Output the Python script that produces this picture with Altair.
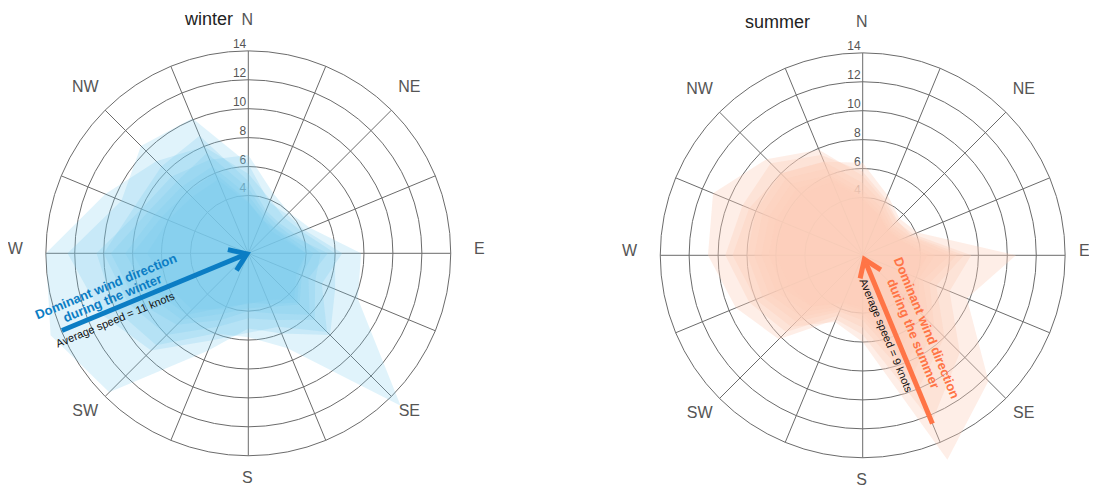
import math
import altair as alt
import pandas as pd

# ---------------- data ----------------
DIRS = ["N", "NNE", "NE", "ENE", "E", "ESE", "SE", "SSE",
        "S", "SSW", "SW", "WSW", "W", "WNW", "NW", "NNW"]
BEARINGS = [i * 22.5 for i in range(16)]
LABEL_DIRS = ["N", "NE", "E", "SE", "S", "SW", "W", "NW"]
RING_VALUES = [4, 6, 8, 10, 12, 14]
SEASONS = ["winter", "summer"]

# average wind speed (knots) per direction, one list per year
winter_1 = [6.8, 4.5, 4.0, 4.6, 7.8, 8.2, 14.9, 7.1, 5.8, 6.0, 9.0, 10.0, 10.5, 8.0, 7.5, 7.0]
winter_2 = [5.5, 4.0, 3.5, 4.0, 6.0, 6.5, 8.0, 6.0, 5.2, 7.3, 13.6, 14.8, 14.0, 10.7, 9.0, 8.0]
winter_3 = [6.2, 3.8, 3.8, 4.2, 6.5, 5.5, 7.7, 5.5, 5.5, 6.5, 9.5, 11.0, 12.5, 9.5, 10.5, 10.1]
winter_4 = [5.0, 3.2, 3.0, 3.5, 5.0, 5.0, 6.5, 5.0, 4.5, 5.5, 8.0, 9.0, 10.0, 8.5, 8.5, 8.8]
winter_5 = [4.5, 3.0, 2.8, 3.2, 5.5, 4.5, 6.0, 4.5, 4.0, 5.0, 7.0, 8.5, 9.5, 7.5, 7.0, 7.5]
winter_6 = [4.0, 2.8, 2.5, 3.0, 4.5, 4.0, 5.0, 4.0, 3.8, 4.5, 6.5, 7.5, 8.5, 7.0, 6.5, 6.5]
winter_7 = [3.6, 2.5, 2.5, 2.8, 4.0, 3.6, 4.5, 3.5, 3.5, 4.0, 6.0, 7.0, 8.0, 6.5, 6.0, 6.0]
winter_8 = [3.5, 2.6, 2.2, 2.6, 4.0, 3.8, 4.8, 3.8, 3.4, 4.2, 5.5, 6.0, 7.0, 6.0, 5.5, 5.5]

summer_1 = [6.4, 4.5, 3.6, 4.1, 10.6, 7.8, 12.3, 15.3, 6.0, 5.0, 7.0, 8.0, 9.0, 8.5, 8.0, 7.0]
summer_2 = [5.5, 4.0, 3.3, 3.8, 7.5, 6.5, 9.5, 12.5, 5.5, 4.8, 8.2, 9.5, 10.7, 11.2, 9.4, 7.9]
summer_3 = [5.8, 4.2, 3.4, 3.6, 7.0, 5.5, 8.0, 10.0, 5.0, 4.5, 7.5, 8.5, 9.5, 9.0, 9.0, 7.5]
summer_4 = [5.0, 3.8, 3.0, 3.5, 6.5, 5.0, 7.0, 9.0, 4.5, 4.2, 6.5, 7.5, 8.0, 8.0, 8.0, 7.0]
summer_5 = [4.5, 3.5, 2.8, 3.2, 6.0, 4.5, 6.5, 8.0, 4.2, 4.0, 6.0, 7.0, 7.5, 7.5, 7.5, 6.5]
summer_6 = [4.2, 3.2, 2.6, 3.0, 5.0, 4.2, 5.5, 7.0, 4.0, 3.8, 5.5, 6.5, 7.0, 7.0, 7.0, 6.0]
summer_7 = [4.0, 3.0, 2.5, 2.8, 4.5, 4.0, 5.0, 6.0, 3.8, 3.6, 5.0, 6.0, 6.5, 6.5, 6.5, 5.8]
summer_8 = [3.8, 3.0, 2.4, 2.8, 4.5, 3.8, 4.5, 5.5, 3.6, 3.5, 5.0, 5.5, 6.0, 6.0, 6.0, 5.5]

winter_series = [winter_1, winter_2, winter_3, winter_4, winter_5, winter_6, winter_7, winter_8]
summer_series = [summer_1, summer_2, summer_3, summer_4, summer_5, summer_6, summer_7, summer_8]

# dominant wind (bearing in degrees, arrow length in knots)
dominant_bearing = {"winter": 247.5, "summer": 157.5}
dominant_length = {"winter": 13.95, "summer": 12.6}
dominant_tip = {"winter": 0.1, "summer": 0.3}
annot_lines = {
    "winter": ["Dominant wind direction", "during the winter"],
    "summer": ["Dominant wind direction", "during the summer"],
}
annot_speed = {"winter": "Average speed = 11 knots", "summer": "Average speed = 9 knots"}

# ---------------- layout (pixels -> knot units) ----------------
K = 14.46            # pixels per knot
W, H = 1081, 481
W_CX_PX, W_CY_PX = 240.3, 245.3
S_CX_PX, S_CY_PX = 854.7, 247.3
XMIN = -W_CX_PX / K
XMAX = XMIN + W / K
YMAX = W_CY_PX / K
YMIN = YMAX - H / K
CENTER = {
    "winter": (0.0, 0.0),
    "summer": ((S_CX_PX - W_CX_PX) / K, -(S_CY_PX - W_CY_PX) / K),
}
TITLE_OFFSET = {"winter": (-2.72, 15.79), "summer": (-5.89, 15.70)}
LABEL_R = 15.85
LABEL_R_EW = 16.05
# annotation offsets along / across the arrow (knot units)
ANNOT_POS = {
    "winter": [(9.97, -1.62), (9.86, -0.70)],
    "summer": [(6.33, 2.14), (6.34, 1.13)],
}
SPEED_POS = {"winter": (10.27, 0.78), "summer": (5.73, -0.68)}
ARM_LEN = 1.35
ARM_ANGLE = 35

FONT = "Liberation Sans"
GRID = "#6b6b6b"
COLORS = {"winter": "#0b7dc4", "summer": "#ff7446"}


def polar(season, r, b):
    cx, cy = CENTER[season]
    rad = math.radians(b)
    return cx + r * math.sin(rad), cy + r * math.cos(rad)


xs = alt.Scale(domain=[XMIN, XMAX], nice=False, zero=False)
ys = alt.Scale(domain=[YMIN, YMAX], nice=False, zero=False)


def X(f):
    return alt.X(f, type="quantitative", scale=xs, axis=None)


def Y(f):
    return alt.Y(f, type="quantitative", scale=ys, axis=None)


# ---------------- tables ----------------
rings = pd.DataFrame([
    {"season": s, "cx": CENTER[s][0], "cy": CENTER[s][1], "r": r,
     "ly": CENTER[s][1] + r, "label": str(r)}
    for s in SEASONS for r in RING_VALUES
])

spokes = []
for s in SEASONS:
    for d, b in zip(DIRS, BEARINGS):
        x1, y1 = polar(s, 14, b)
        spokes.append({"season": s, "dir": d, "x0": CENTER[s][0], "y0": CENTER[s][1], "x1": x1, "y1": y1})
spokes = pd.DataFrame(spokes)

dlabels = []
for s in SEASONS:
    for d, b in zip(DIRS, BEARINGS):
        if d in LABEL_DIRS:
            r = LABEL_R_EW if d in ("E", "W") else LABEL_R
            x, y = polar(s, r, b)
            x = min(x, XMAX - 0.25)   # keep the right-most label partly inside the view
            dlabels.append({"season": s, "label": d, "x": x, "y": y})
dlabels = pd.DataFrame(dlabels)

titles = pd.DataFrame([
    {"label": s, "x": CENTER[s][0] + TITLE_OFFSET[s][0], "y": CENTER[s][1] + TITLE_OFFSET[s][1]}
    for s in SEASONS
])


def poly_table(season, series):
    rows = []
    for i, vals in enumerate(series):
        for k, (b, v) in enumerate(zip(BEARINGS, vals)):
            x, y = polar(season, v, b)
            rows.append({"series": f"{season}-{i}", "k": k, "x": x, "y": y, "v": v})
    return pd.DataFrame(rows)


winter_poly = poly_table("winter", winter_series)
summer_poly = poly_table("summer", summer_series)


def arrow_tables(season):
    b = dominant_bearing[season]
    ux, uy = math.sin(math.radians(b)), math.cos(math.radians(b))
    cx, cy = CENTER[season]
    tip_r = dominant_tip[season]
    tip = (cx + tip_r * ux, cy + tip_r * uy)
    start = (cx + (tip_r + 0.3) * ux, cy + (tip_r + 0.3) * uy)
    tail = (cx + dominant_length[season] * ux, cy + dominant_length[season] * uy)
    shaft = pd.DataFrame([{"x0": tail[0], "y0": tail[1], "x1": start[0], "y1": start[1]}])
    pts = []
    for k, sign in enumerate([1, 0, -1]):
        if sign == 0:
            pts.append({"k": k, "x": tip[0], "y": tip[1]})
        else:
            a = math.radians(sign * ARM_ANGLE)
            rx = ux * math.cos(a) - uy * math.sin(a)
            ry = ux * math.sin(a) + uy * math.cos(a)
            pts.append({"k": k, "x": tip[0] + ARM_LEN * rx, "y": tip[1] + ARM_LEN * ry})
    head = pd.DataFrame(pts)
    nx, ny = -uy, ux
    txt = []
    for line, (al, pp) in zip(annot_lines[season], ANNOT_POS[season]):
        txt.append({"text": line, "x": cx + al * ux + pp * nx, "y": cy + al * uy + pp * ny})
    al, pp = SPEED_POS[season]
    spd = pd.DataFrame([{"text": annot_speed[season], "x": cx + al * ux + pp * nx, "y": cy + al * uy + pp * ny}])
    return shaft, head, pd.DataFrame(txt), spd


# ---------------- layers ----------------
ring_layer = alt.Chart(rings).mark_arc(
    filled=False, stroke=GRID, strokeWidth=1, theta=0, theta2=2 * math.pi
).encode(
    x=X("cx"), y=Y("cy"),
    radius=alt.Radius("r:Q", stack=None,
                      scale=alt.Scale(type="linear", domain=[0, 14], range=[0, 14 * K], zero=True, nice=False)),
)

spoke_layer = alt.Chart(spokes).mark_rule(stroke=GRID, strokeWidth=1).encode(
    x=X("x0"), y=Y("y0"), x2="x1:Q", y2="y1:Q"
)

tick_layer = alt.Chart(rings).mark_text(
    align="right", baseline="alphabetic", dx=-2, dy=-3, fontSize=12, font=FONT, color="#555555"
).encode(x=X("cx"), y=Y("ly"), text="label:N")

dir_layer = alt.Chart(dlabels).mark_text(
    align="center", baseline="middle", dx=-1, dy=-4, fontSize=16, font=FONT, color="#555555"
).encode(x=X("x"), y=Y("y"), text="label:N")

title_layer = alt.Chart(titles).mark_text(
    align="center", baseline="alphabetic", fontSize=18, font=FONT, color="#222222"
).encode(x=X("x"), y=Y("y"), text="label:N")

winter_layer = alt.Chart(winter_poly).mark_line(
    interpolate="linear-closed", fill="#78cbee", fillOpacity=0.23, strokeOpacity=0, strokeWidth=0
).encode(x=X("x"), y=Y("y"), detail="series:N", order="k:Q")

summer_layer = alt.Chart(summer_poly).mark_line(
    interpolate="linear-closed", fill="#fdcdbb", fillOpacity=0.35, strokeOpacity=0, strokeWidth=0
).encode(x=X("x"), y=Y("y"), detail="series:N", order="k:Q")

angles = {"winter": 337.5, "summer": 67.5}
annot_layers = []
for s in SEASONS:
    shaft, head, txt, spd = arrow_tables(s)
    annot_layers.append(alt.Chart(shaft).mark_rule(color=COLORS[s], strokeWidth=5, strokeCap="butt").encode(
        x=X("x0"), y=Y("y0"), x2="x1:Q", y2="y1:Q"))
    annot_layers.append(alt.Chart(head).mark_line(
        color=COLORS[s], strokeWidth=5, strokeCap="butt", strokeJoin="miter").encode(
        x=X("x"), y=Y("y"), order="k:Q"))
    annot_layers.append(alt.Chart(txt).mark_text(
        align="center", baseline="middle", angle=angles[s], fontSize=13, fontWeight="bold",
        font=FONT, color=COLORS[s]).encode(x=X("x"), y=Y("y"), text="text:N"))
    annot_layers.append(alt.Chart(spd).mark_text(
        align="center", baseline="middle", angle=angles[s], fontSize=11,
        font=FONT, color="#111111").encode(x=X("x"), y=Y("y"), text="text:N"))

chart = alt.layer(
    ring_layer, spoke_layer, tick_layer, dir_layer, title_layer,
    winter_layer, summer_layer, *annot_layers
).properties(
    width=W, height=H, autosize=alt.AutoSizeParams(type="none"), padding=0, background="white"
).configure_view(stroke=None)

chart.save("out.html", embed_options={"renderer": "svg", "actions": False})
